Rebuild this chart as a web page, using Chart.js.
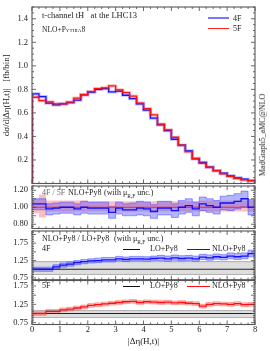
<!DOCTYPE html>
<html><head><meta charset="utf-8">
<script src="https://cdn.jsdelivr.net/npm/chart.js@4/dist/chart.umd.min.js"></script>
<style>
body{margin:0;width:270px;height:351px;background:#fff;overflow:hidden;position:relative;font-family:"Liberation Serif","DejaVu Serif",serif;}
.p{position:absolute;left:0;width:270px;}
.t{position:absolute;font-size:8px;color:#222;white-space:nowrap;line-height:1;}
.sc{font-variant:small-caps;}
.sw{position:absolute;height:0;}
</style></head><body>
<div class="p" style="top:0;height:192px"><canvas id="k1"></canvas></div>
<div class="p" style="top:178px;height:58px"><canvas id="k2"></canvas></div>
<div class="p" style="top:224px;height:64px"><canvas id="k3"></canvas></div>
<div class="p" style="top:272px;height:79px"><canvas id="k4"></canvas></div>

<div class="t" style="left:42px;top:11px;font-size:8.5px">t-channel tH &nbsp; at the LHC13</div>
<div class="t" style="left:42px;top:26px;font-size:7.5px">NLO+P<span class="sc">ythia8</span></div>
<div class="sw" style="left:208px;top:17px;width:21px;border-top:2px solid #7777ff"></div>
<div class="t" style="left:233px;top:14.5px">4F</div>
<div class="sw" style="left:208px;top:27.5px;width:21px;border-top:1.5px solid #ff2020"></div>
<div class="t" style="left:233px;top:24.5px">5F</div>
<div class="t" style="left:259px;top:135px;transform:translate(-50%,-50%) rotate(-90deg);transform-origin:50% 50%;left:263px">MadGraph5_aMC@NLO</div>

<div class="t" style="left:42px;top:189px;color:#666">4F / 5F</div>
<div class="t" style="left:68px;top:189px">NLO+Py8</div>
<div class="t" style="left:104px;top:189px">(with μ<sub style="font-size:5.5px">R,F</sub> unc.)</div>

<div class="t" style="left:42px;top:235px">NLO+Py8 / LO+Py8</div>
<div class="t" style="left:114px;top:235px">(with μ<sub style="font-size:5.5px">R,F</sub> unc.)</div>
<div class="t" style="left:42px;top:244.5px">4F</div>
<div class="sw" style="left:123px;top:248.5px;width:17px;border-top:1.2px solid #111"></div>
<div class="t" style="left:150px;top:245px">LO+Py8</div>
<div class="sw" style="left:187px;top:248.5px;width:23px;border-top:1.2px solid #1010ff"></div>
<div class="t" style="left:212px;top:245px">NLO+Py8</div>

<div class="t" style="left:42px;top:282px">5F</div>
<div class="sw" style="left:123px;top:285.5px;width:17px;border-top:1.2px solid #111"></div>
<div class="t" style="left:150px;top:282px">LO+Py8</div>
<div class="sw" style="left:187px;top:285.5px;width:23px;border-top:1.2px solid #ff1010"></div>
<div class="t" style="left:212px;top:282px">NLO+Py8</div>

<script>
// ---------- data ----------
const binEdges = [0,0.25,0.5,0.75,1,1.25,1.5,1.75,2,2.25,2.5,2.75,3,3.25,3.5,3.75,4,4.25,4.5,4.75,5,5.25,5.5,5.75,6,6.25,6.5,6.75,7,7.25,7.5,7.75,8];
const xTicks = [0,1,2,3,4,5,6,7,8];
// main panel: dsigma/d|deta| [fb/bin]
const main4F = [0.762,0.739,0.683,0.668,0.677,0.688,0.708,0.753,0.776,0.800,0.807,0.779,0.785,0.750,0.722,0.677,0.623,0.555,0.498,0.449,0.376,0.325,0.277,0.209,0.180,0.140,0.109,0.087,0.064,0.047,0.036,0.024];
const main5F = [0.733,0.705,0.694,0.677,0.677,0.691,0.725,0.756,0.781,0.807,0.813,0.830,0.796,0.773,0.742,0.683,0.637,0.583,0.504,0.455,0.393,0.325,0.271,0.214,0.172,0.138,0.109,0.083,0.061,0.044,0.032,0.024];
const mainTicks = [0.2,0.4,0.6,0.8,1.0,1.2,1.4];
// panel 2: 4F/5F
const r45Central = [1.04,1.04,0.98,0.99,1.00,1.00,0.98,1.00,0.99,0.99,0.99,0.94,0.99,0.97,0.97,0.99,0.98,0.95,0.99,0.99,0.96,1.00,1.02,0.98,1.04,1.02,1.00,1.05,1.05,1.07,1.10,1.00];
const r45Hi = [1.10,1.10,1.04,1.05,1.06,1.06,1.04,1.07,1.06,1.06,1.06,1.01,1.06,1.04,1.05,1.07,1.06,1.03,1.07,1.07,1.04,1.08,1.10,1.06,1.12,1.10,1.08,1.13,1.14,1.16,1.19,1.09];
const r45Lo = [0.97,0.97,0.91,0.92,0.93,0.93,0.91,0.93,0.92,0.92,0.92,0.87,0.92,0.90,0.90,0.91,0.90,0.87,0.91,0.91,0.88,0.92,0.94,0.90,0.96,0.94,0.92,0.97,0.96,0.98,1.01,0.91];
const r55Central = [1,1,1,1,1,1,1,1,1,1,1,1,1,1,1,1,1,1,1,1,1,1,1,1,1,1,1,1,1,1,1,1];
const r55Hi = [1.10,1.15,1.08,1.08,1.08,1.08,1.08,1.08,1.07,1.07,1.07,1.07,1.07,1.07,1.07,1.07,1.07,1.07,1.07,1.07,1.07,1.07,1.07,1.07,1.08,1.08,1.08,1.08,1.08,1.08,1.08,1.08];
const r55Lo = [0.93,0.88,0.95,0.95,0.95,0.95,0.95,0.95,0.95,0.95,0.95,0.95,0.95,0.95,0.95,0.95,0.95,0.95,0.95,0.95,0.95,0.95,0.95,0.95,0.95,0.95,0.95,0.95,0.95,0.95,0.95,0.95];
const r2Ticks = [0.8,0.9,1.0,1.1,1.2];
// panel 3: NLO/LO 4F
const k4Central = [1.00,1.00,1.00,1.07,1.12,1.15,1.19,1.22,1.24,1.25,1.27,1.27,1.30,1.28,1.30,1.30,1.29,1.31,1.32,1.30,1.33,1.31,1.32,1.30,1.35,1.33,1.36,1.34,1.38,1.36,1.38,1.45];
const k4Hi = [1.06,1.06,1.06,1.13,1.18,1.21,1.25,1.28,1.30,1.32,1.34,1.34,1.37,1.35,1.37,1.37,1.36,1.38,1.40,1.38,1.41,1.39,1.40,1.38,1.43,1.41,1.44,1.42,1.47,1.45,1.47,1.55];
const k4Lo = [0.94,0.94,0.94,1.01,1.06,1.09,1.13,1.16,1.18,1.19,1.21,1.21,1.24,1.22,1.24,1.24,1.23,1.25,1.25,1.23,1.26,1.24,1.25,1.23,1.28,1.26,1.29,1.27,1.30,1.28,1.30,1.36];
const lo4Hi = [1.22,1.22,1.22,1.22,1.22,1.22,1.22,1.22,1.22,1.22,1.22,1.22,1.22,1.22,1.22,1.22,1.22,1.22,1.22,1.22,1.22,1.22,1.22,1.22,1.22,1.22,1.22,1.22,1.22,1.22,1.22,1.22];
const lo4Lo = [0.85,0.85,0.85,0.85,0.85,0.85,0.85,0.85,0.85,0.85,0.85,0.85,0.85,0.85,0.85,0.85,0.85,0.85,0.85,0.85,0.85,0.85,0.85,0.85,0.85,0.85,0.85,0.85,0.85,0.85,0.85,0.85];
const r3Ticks = [0.75,1.0,1.25,1.5,1.75,2.0];
// panel 4: NLO/LO 5F
const k5Central = [1.00,1.00,1.06,1.06,1.10,1.12,1.15,1.18,1.22,1.24,1.26,1.28,1.30,1.32,1.33,1.30,1.32,1.31,1.30,1.31,1.29,1.30,1.28,1.27,1.20,1.25,1.27,1.26,1.25,1.27,1.24,1.25];
const k5Hi = [1.05,1.05,1.11,1.11,1.15,1.17,1.20,1.23,1.27,1.29,1.31,1.33,1.35,1.37,1.38,1.35,1.37,1.36,1.35,1.36,1.34,1.35,1.33,1.32,1.25,1.30,1.32,1.31,1.30,1.32,1.29,1.30];
const k5Lo = [0.95,0.95,1.01,1.01,1.05,1.07,1.10,1.13,1.17,1.19,1.21,1.23,1.25,1.27,1.28,1.25,1.27,1.26,1.25,1.26,1.24,1.25,1.23,1.22,1.15,1.20,1.22,1.21,1.20,1.22,1.19,1.20];
const lo5Hi = [1.08,1.08,1.08,1.08,1.08,1.08,1.08,1.08,1.08,1.08,1.08,1.08,1.08,1.08,1.08,1.08,1.08,1.08,1.08,1.08,1.08,1.08,1.08,1.08,1.08,1.08,1.08,1.08,1.08,1.08,1.08,1.08];
const lo5Lo = [0.89,0.89,0.89,0.89,0.89,0.89,0.89,0.89,0.89,0.89,0.89,0.89,0.89,0.89,0.89,0.89,0.89,0.89,0.89,0.89,0.89,0.89,0.89,0.89,0.89,0.89,0.89,0.89,0.89,0.89,0.89,0.89];
const r4Ticks = [0.75,1.0,1.25,1.5,1.75];

// ---------- helpers ----------
const FONT = '"Liberation Serif","DejaVu Serif",serif';
function steps(vals, fromZero){
  const p = fromZero ? [{x:binEdges[0], y:0}] : [];
  vals.forEach((v,i)=>p.push({x:binEdges[i], y:v}));
  p.push({x:binEdges[binEdges.length-1], y:vals[vals.length-1]});
  if (fromZero) p.push({x:binEdges[binEdges.length-1], y:0});
  return p;
}
function line(vals, color, w, order, fromZero){
  return {data:steps(vals, fromZero), borderColor:color, borderWidth:w, stepped:'before', pointRadius:0, fill:false, order:order};
}
function band(hi, lo, color, edge, order){
  return [
    {data:steps(hi), borderColor:edge||'rgba(0,0,0,0)', borderWidth:edge?0.6:0, backgroundColor:color, fill:'+1', stepped:'before', pointRadius:0, order:order},
    {data:steps(lo), borderColor:edge||'rgba(0,0,0,0)', borderWidth:edge?0.6:0, fill:false, stepped:'before', pointRadius:0, order:order}
  ];
}
const framePlugin = {
  id:'frame',
  afterDraw(c, args, o){
    const {ctx, chartArea:a, scales} = c;
    const xs = scales.x, ys = scales.y;
    ctx.save();
    ctx.strokeStyle = '#444'; ctx.lineWidth = 0.8;
    ctx.beginPath();
    const yMaj = o.yMajor, ymin = ys.min, ymax = ys.max;
    for (let v = Math.ceil(ymin / o.yMinorStep - 1e-6) * o.yMinorStep; v <= ymax + 1e-9; v += o.yMinorStep){
      const isMaj = yMaj.some(m => Math.abs(m - v) < 1e-6);
      const L = isMaj ? 4 : 2;
      const p = ys.getPixelForValue(v);
      ctx.moveTo(a.left, p); ctx.lineTo(a.left + L, p);
      ctx.moveTo(a.right, p); ctx.lineTo(a.right - L, p);
    }
    binEdges.forEach(v => {
      const isMaj = xTicks.includes(v);
      const L = isMaj ? 4 : 2;
      const p = xs.getPixelForValue(v);
      ctx.moveTo(p, a.bottom); ctx.lineTo(p, a.bottom - L);
      ctx.moveTo(p, a.top); ctx.lineTo(p, a.top + L);
    });
    ctx.stroke();
    ctx.lineWidth = 1.1; ctx.strokeStyle = '#555';
    ctx.strokeRect(a.left, a.top, a.right - a.left, a.bottom - a.top);
    ctx.restore();
  }
};
function makeChart(id, datasets, ymin, ymax, yTicks, fmt, minorStep, pad, showX, yTitle){
  return new Chart(document.getElementById(id), {
    type:'line',
    data:{datasets:datasets},
    options:{
      responsive:true, maintainAspectRatio:false, animation:false,
      layout:{padding:pad},
      plugins:{legend:{display:false}, tooltip:{enabled:false}, filler:{drawTime:'beforeDatasetsDraw'},
        frame:{yMajor:yTicks, yMinorStep:minorStep}},
      scales:{
        x:{type:'linear', min:0, max:8, display:showX,
           grid:{display:false, drawTicks:false}, border:{display:false},
           afterBuildTicks(s){ s.ticks = xTicks.map(v=>({value:v})); },
           afterFit(s){ if (showX) s.height = 26.5; },
           ticks:{font:{family:FONT, size:8.5}, color:'#222', padding:0, maxRotation:0},
           title:{display:showX, text:'|Δη(H,t)|', font:{family:FONT, size:9}, color:'#222', padding:{top:0,bottom:3.5}}},
        y:{type:'linear', min:ymin, max:ymax,
           grid:{display:false, drawTicks:false}, border:{display:false},
           afterBuildTicks(s){ s.ticks = yTicks.map(v=>({value:v})); },
           afterFit(s){ s.width = 32; s.paddingTop = 0; s.paddingBottom = 0; },
           ticks:{font:{family:FONT, size:8.5}, color:'#222', padding:4, callback:v=>Number(v).toFixed(fmt)},
           title:{display:!!yTitle, text:yTitle||'', font:{family:FONT, size:9}, color:'#222', padding:{top:1,bottom:0}}}
      }
    },
    plugins:[framePlugin]
  });
}

// main
makeChart('k1', [
  line(main4F, 'rgba(110,110,255,0.45)', 3.2, 5, true),
  line(main5F, 'rgba(255,90,90,0.4)', 3.2, 5, true),
  line(main4F, '#1515ff', 1.3, 1, true),
  line(main5F, '#ff1010', 1.3, 0, true)
], 0, 1.5, mainTicks, 1, 0.05, {left:0, right:15, top:7, bottom:8.5}, false, 'dσ/d|Δη(H,t)|   [fb/bin]');

// 4F/5F
makeChart('k2', [
  ...band(r55Hi, r55Lo, 'rgba(255,110,110,0.45)', null, 6),
  ...band(r45Hi, r45Lo, 'rgba(90,90,255,0.45)', 'rgba(60,60,255,0.8)', 5),
  line(r55Central, '#ff2020', 1.2, 1),
  line(r45Central, '#1010ff', 1.3, 0)
], 0.75, 1.25, r2Ticks, 2, 0.025, {left:0, right:15, top:8, bottom:7.5}, false);

// NLO/LO 4F
makeChart('k3', [
  ...band(lo4Hi, lo4Lo, 'rgba(200,200,200,0.6)', 'rgba(120,120,120,0.9)', 6),
  ...band(k4Hi, k4Lo, 'rgba(90,90,255,0.45)', 'rgba(60,60,255,0.8)', 5),
  line(r55Central, '#222', 1.2, 1),
  line(k4Central, '#1010ff', 1.3, 0)
], 0.7, 2.1, r3Ticks, 2, 0.05, {left:0, right:15, top:7, bottom:8.3}, false);

// NLO/LO 5F
makeChart('k4', [
  ...band(lo5Hi, lo5Lo, 'rgba(200,200,200,0.6)', 'rgba(120,120,120,0.9)', 6),
  ...band(k5Hi, k5Lo, 'rgba(255,110,110,0.45)', 'rgba(255,90,90,0.8)', 5),
  line(r55Central, '#222', 1.2, 1),
  line(k5Central, '#ff1010', 1.3, 0)
], 0.7, 1.9, r4Ticks, 2, 0.05, {left:0, right:15, top:8.5, bottom:0}, true);
</script>
</body></html>
